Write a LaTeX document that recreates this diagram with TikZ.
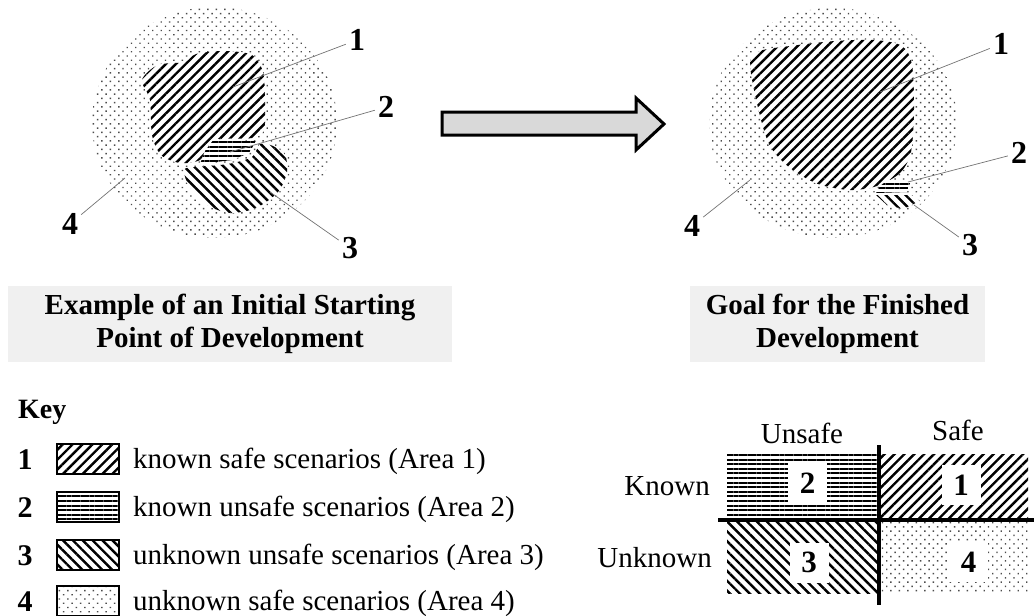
\documentclass[tikz,border=0pt]{standalone}
\usepackage{fontspec}
\setmainfont{Liberation Serif}
\usetikzlibrary{patterns.meta}

\tikzstyle{every picture}+=[>=latex]
\tikzstyle{txt}=[font=\fontsize{29}{33}\selectfont, inner sep=0pt]
\tikzstyle{num}=[font=\fontsize{32}{36}\selectfont\bfseries, inner sep=3pt]
\tikzstyle{leader}=[draw=black!55, line width=0.7pt]
\tikzstyle{area1}=[preaction={fill=white}, pattern={Lines[angle=45,distance=7pt,line width=2.4pt]}]
\tikzstyle{area2}=[preaction={fill=white}, pattern={Lines[angle=0,distance=4.6pt,line width=2pt]}]
\tikzstyle{area3}=[preaction={fill=white}, pattern={Lines[angle=-45,distance=7pt,line width=2.4pt]}]
\tikzstyle{area4}=[preaction={fill=white}, pattern={Dots[distance=6pt,radius=1pt,angle=45]}, pattern color=black!70]
\tikzstyle{keybox}=[draw, line width=1.6pt, minimum width=62pt, minimum height=30pt, inner sep=0pt]
\tikzstyle{caption}=[fill=black!6, font=\fontsize{29}{33}\selectfont\bfseries, align=center, inner sep=0pt, minimum height=76pt]
\tikzstyle{numbox}=[fill=white, minimum width=39pt, minimum height=40pt, inner sep=0pt, font=\fontsize{31}{35}\selectfont\bfseries]
\tikzstyle{bar}=[line width=4pt]

\begin{document}
\begin{tikzpicture}[x=1pt,y=-1pt]
	\useasboundingbox (0,0) rectangle (1034,616) ;
	\newcommand\keyrow[4]{
		\node[num, inner sep=0pt, anchor=base, font=\fontsize{30}{34}\selectfont\bfseries] (k#1) at (25,#2+10) {#1} ;
		\node[keybox, #3] (b#1) at (88,#2) {} ;
		\node[txt, anchor=base west] (t#1) at (133,#2+9) {#4} ;
	}
	% start
	\path[area4] (214.5,122.5) ellipse [x radius=122.5, y radius=115.5] ;
	\path[area1] plot[smooth cycle, tension=0.5] coordinates {(142,80) (158,65) (185,62) (196,54) (225,51) (252,55) (263,72) (265,100) (264,130) (252,138) (222,139) (208,146) (200,160) (180,163) (161,155) (152,135) (150,100)} ;
	\path[area2] (214,139) -- (256,141) -- (249,153) -- (232,160) -- (200,164) -- (205,151) -- cycle ;
	\path[area3] plot[smooth cycle, tension=0.5] coordinates {(260,144) (273,146) (285,155) (287,172) (278,192) (256,208) (230,213) (207,205) (190,188) (184,170) (196,167) (228,164) (252,157)} ;
	\coordinate (lp1) at (233,87) ;
	\coordinate (lp2) at (230,152) ;
	\coordinate (lp3) at (270,192) ;
	\coordinate (lp4) at (125,178) ;
	\node[num] (l1) at (357,40) {1} ;
	\node[num] (l2) at (386,107) {2} ;
	\node[num] (l3) at (350,248) {3} ;
	\node[num] (l4) at (70,224) {4} ;
	\foreach \i in {1,...,4}
		\draw[leader] (l\i) -- (lp\i) ;
	% arrow
	\draw[line width=3pt, fill=black!15, line join=miter] (442,112) -- (636,112) -- (636,98) -- (664,124) -- (636,150) -- (636,135) -- (442,135) -- cycle ;
	% goal
	\path[area4] (833,123) ellipse [x radius=124, y radius=115] ;
	\path[area1] plot[smooth cycle, tension=0.5] coordinates {(750,64) (760,51) (790,46) (835,41) (875,40) (902,46) (912,65) (914,110) (911,152) (900,173) (877,186) (850,190) (818,184) (790,168) (770,146) (759,112)} ;
	\path[area2] (888,180) -- (911,180) -- (907,192) -- (876,193) -- (880,186) -- cycle ;
	\path[area3] (876,195) -- (911,195) -- (920,201) -- (903,209) -- (887,205) -- cycle ;
	\coordinate (rp1) at (880,92) ;
	\coordinate (rp2) at (908,182) ;
	\coordinate (rp3) at (914,205) ;
	\coordinate (rp4) at (750,180) ;
	\node[num] (r1) at (1001,44) {1} ;
	\node[num] (r2) at (1019,153) {2} ;
	\node[num] (r3) at (970,245) {3} ;
	\node[num] (r4) at (692,226) {4} ;
	\foreach \i in {1,...,4}
		\draw[leader] (r\i) -- (rp\i) ;
	% captions
	\node[caption, minimum width=444pt] (cap1) at (230,324) {Example of an Initial Starting\\Point of Development} ;
	\node[caption, minimum width=295pt] (cap2) at (837.5,324) {Goal for the Finished\\Development} ;
	% key
	\node[num, inner sep=0pt, anchor=base west, font=\fontsize{28}{32}\selectfont\bfseries] (key) at (18,418) {Key} ;
	\keyrow{1}{459}{area1}{known safe scenarios (Area 1)}
	\keyrow{2}{507}{area2}{known unsafe scenarios (Area 2)}
	\keyrow{3}{555}{area3}{unknown unsafe scenarios (Area 3)}
	\keyrow{4}{601}{area4}{unknown safe scenarios (Area 4)}
	% quadrants
	\path[area2] (727,454) rectangle (877,517) ;
	\path[area1] (880,454) rectangle (1028,517) ;
	\path[area3] (727,522) rectangle (877,593) ;
	\path[area4] (880,522) rectangle (1028,593) ;
	\draw[bar] (879,445) -- (879,605) ;
	\draw[bar] (718,519.5) -- (1034,519.5) ;
	\node[numbox] (q2) at (807.5,483) {2} ;
	\node[numbox] (q1) at (961,485) {1} ;
	\node[numbox] (q3) at (809,562.5) {3} ;
	\node[numbox] (q4) at (968.5,562) {4} ;
	\node[txt, anchor=base] (unsafe) at (802,443) {Unsafe} ;
	\node[txt, anchor=base] (safe) at (958,440) {Safe} ;
	\node[txt, anchor=base east] (known) at (710,495) {Known} ;
	\node[txt, anchor=base east] (unknown) at (712,567) {Unknown} ;
\end{tikzpicture}
\end{document}
